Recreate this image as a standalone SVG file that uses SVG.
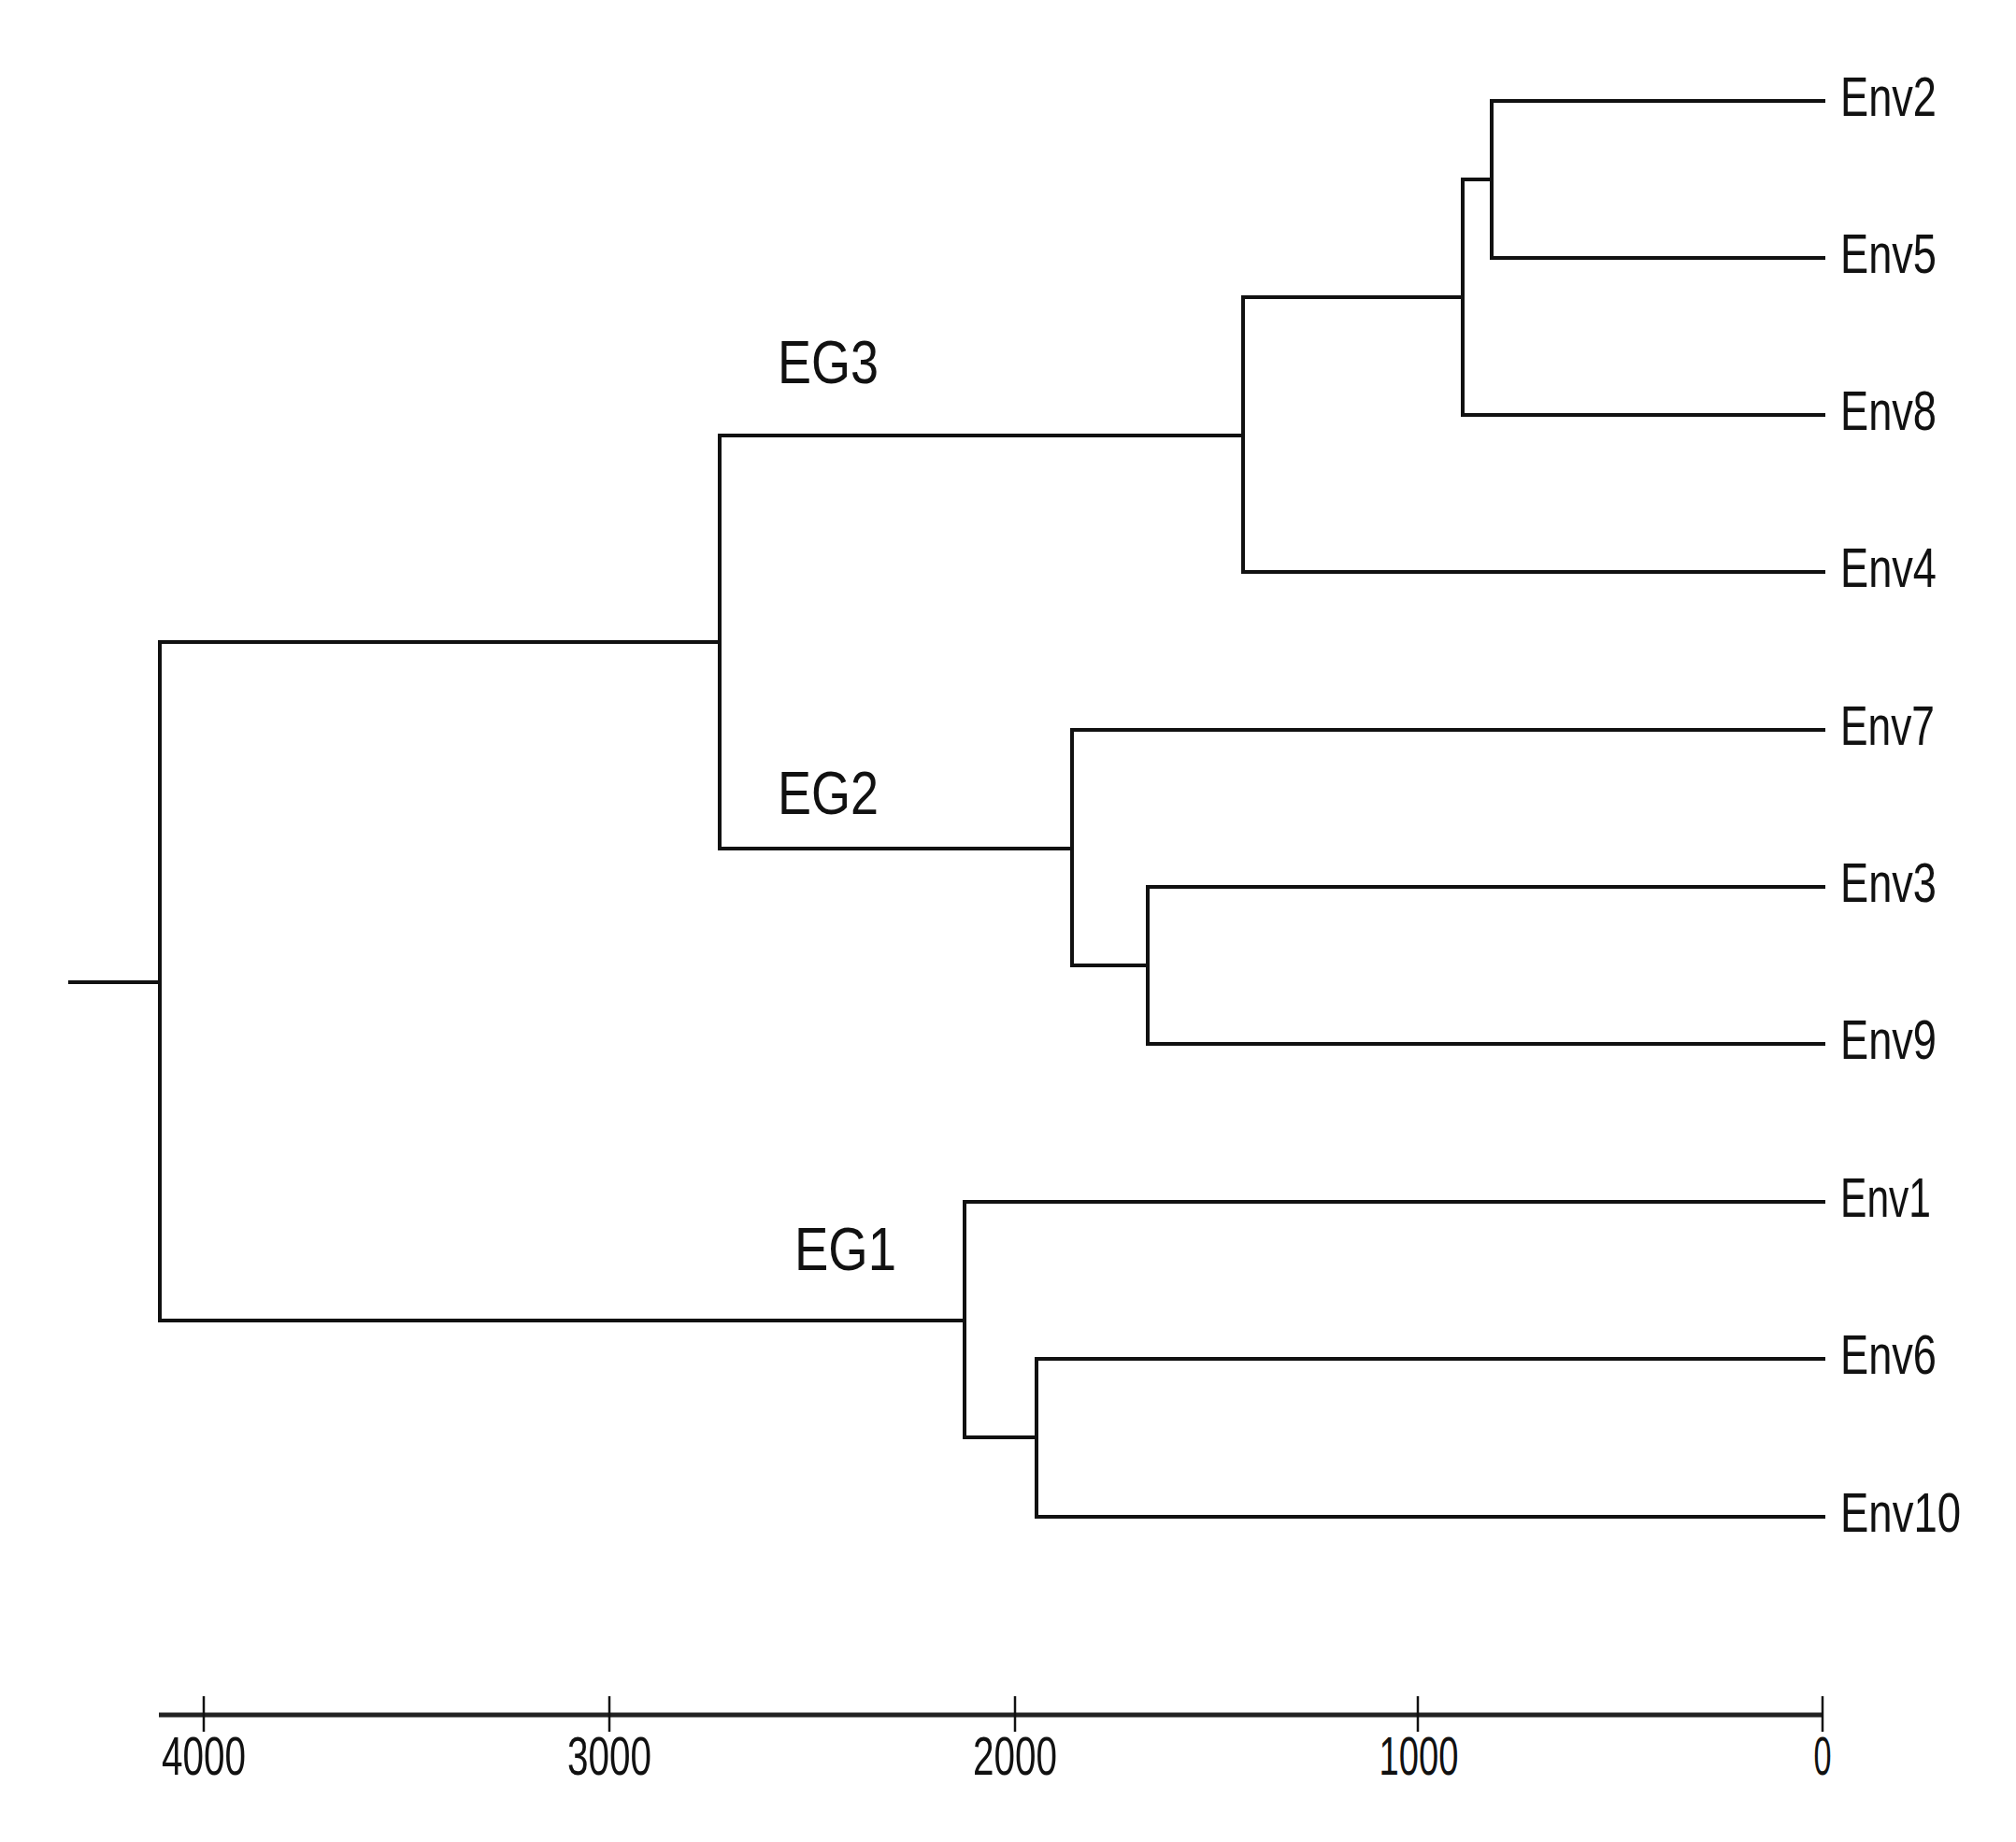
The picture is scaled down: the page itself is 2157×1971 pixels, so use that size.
<svg xmlns="http://www.w3.org/2000/svg" width="2157" height="1971" viewBox="0 0 2157 1971">
<style>
.br{fill:none;stroke:#111;stroke-width:4;stroke-linejoin:miter;stroke-linecap:square}
.ax{fill:none;stroke:#222;stroke-width:5}
.tk{fill:none;stroke:#111;stroke-width:2.5}
.leaf{font-family:"Liberation Sans",Arial,sans-serif;font-size:60px;fill:#111}
.eg{font-family:"Liberation Sans",Arial,sans-serif;font-size:64px;fill:#111}
.tl{font-family:"Liberation Sans",Arial,sans-serif;font-size:57px;fill:#111;text-anchor:middle}
</style>
<rect width="2157" height="1971" fill="#fff"/>
<g id="connectors">
<path class="br" d="M1951,108 H1596 V276 H1951"/>
<path class="br" d="M1596,192 H1565 V444 H1951"/>
<path class="br" d="M1565,318 H1330 V612 H1951"/>
<path class="br" d="M1951,949 H1228 V1117 H1951"/>
<path class="br" d="M1951,781 H1147 V1033 H1228"/>
<path class="br" d="M1330,466 H770 V908 H1147"/>
<path class="br" d="M1951,1454 H1109 V1623 H1951"/>
<path class="br" d="M1951,1286 H1032 V1538 H1109"/>
<path class="br" d="M770,687 H171 V1413 H1032"/>
<path class="br" d="M75,1051 H171"/>
</g>
<g id="leaf-Env2"><text class="leaf" x="1969" y="124" textLength="103" lengthAdjust="spacingAndGlyphs">Env2</text></g>
<g id="leaf-Env5"><text class="leaf" x="1969" y="292" textLength="103" lengthAdjust="spacingAndGlyphs">Env5</text></g>
<g id="leaf-Env8"><text class="leaf" x="1969" y="460" textLength="103" lengthAdjust="spacingAndGlyphs">Env8</text></g>
<g id="leaf-Env4"><text class="leaf" x="1969" y="628" textLength="103" lengthAdjust="spacingAndGlyphs">Env4</text></g>
<g id="leaf-Env7"><text class="leaf" x="1969" y="797" textLength="101" lengthAdjust="spacingAndGlyphs">Env7</text></g>
<g id="leaf-Env3"><text class="leaf" x="1969" y="965" textLength="103" lengthAdjust="spacingAndGlyphs">Env3</text></g>
<g id="leaf-Env9"><text class="leaf" x="1969" y="1133" textLength="103" lengthAdjust="spacingAndGlyphs">Env9</text></g>
<g id="leaf-Env1"><text class="leaf" x="1969" y="1302" textLength="97" lengthAdjust="spacingAndGlyphs">Env1</text></g>
<g id="leaf-Env6"><text class="leaf" x="1969" y="1470" textLength="103" lengthAdjust="spacingAndGlyphs">Env6</text></g>
<g id="leaf-Env10"><text class="leaf" x="1969" y="1639" textLength="129" lengthAdjust="spacingAndGlyphs">Env10</text></g>
<g id="cluster-EG3"><text class="eg" x="832" y="410" textLength="108" lengthAdjust="spacingAndGlyphs">EG3</text></g>
<g id="cluster-EG2"><text class="eg" x="832" y="871" textLength="108" lengthAdjust="spacingAndGlyphs">EG2</text></g>
<g id="cluster-EG1"><text class="eg" x="850" y="1359" textLength="109" lengthAdjust="spacingAndGlyphs">EG1</text></g>
<g id="axis">
<line class="ax" x1="170" y1="1835" x2="1951" y2="1835"/>
<line class="tk" x1="218" y1="1815" x2="218" y2="1853"/>
<line class="tk" x1="652" y1="1815" x2="652" y2="1853"/>
<line class="tk" x1="1086" y1="1815" x2="1086" y2="1853"/>
<line class="tk" x1="1517" y1="1815" x2="1517" y2="1853"/>
<line class="tk" x1="1950" y1="1815" x2="1950" y2="1853"/>
<text class="tl" x="218" y="1899" textLength="90" lengthAdjust="spacingAndGlyphs">4000</text>
<text class="tl" x="652" y="1899" textLength="90" lengthAdjust="spacingAndGlyphs">3000</text>
<text class="tl" x="1086" y="1899" textLength="90" lengthAdjust="spacingAndGlyphs">2000</text>
<text class="tl" x="1518" y="1899" textLength="85" lengthAdjust="spacingAndGlyphs">1000</text>
<text class="tl" x="1950" y="1899" textLength="19" lengthAdjust="spacingAndGlyphs">0</text>
</g>
</svg>
